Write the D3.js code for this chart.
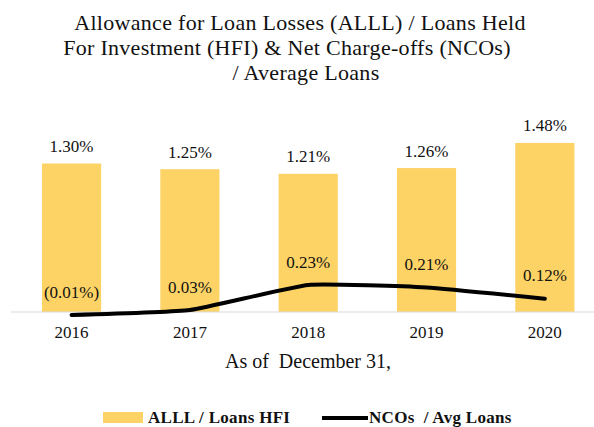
<!DOCTYPE html>
<html><head><meta charset="utf-8">
<script src="https://cdn.jsdelivr.net/npm/d3@7"></script>
<style>
html,body{margin:0;padding:0;background:#fff;}
svg{display:block;font-family:"Liberation Serif","Times New Roman",serif;}
</style></head>
<body>
<svg id="c" width="594" height="427"></svg>
<script>
const years = ["2016","2017","2018","2019","2020"];
const alllValues = [1.30, 1.25, 1.21, 1.26, 1.48];
const ncoValues = [-0.01, 0.03, 0.23, 0.21, 0.12];
const alllLabels = ["1.30%","1.25%","1.21%","1.26%","1.48%"];
const ncoLabels = ["(0.01%)","0.03%","0.23%","0.21%","0.12%"];
const titleLines = ["Allowance for Loan Losses (ALLL) / Loans Held","For Investment (HFI) & Net Charge-offs (NCOs)","/ Average Loans"];
const xAxisTitle = "As of  December 31,";
const legendLabels = ["ALLL / Loans HFI","NCOs  / Avg Loans"];

const svg = d3.select("#c");
const barColor = "#FDD366";

const x = d3.scaleBand().domain(years).range([12.4, 604]).paddingInner(0.5).paddingOuter(0.25);
const yBar = d3.scaleLinear().domain([0, 1.3]).range([312, 163.5]);
const yLine = d3.scaleLinear().domain([0, 0.24]).range([313.75, 283.75]);

// title
const titleX = [300, 287, 306];
const titleY = [30, 55, 80];
svg.append("g").selectAll("text").data(titleLines).join("text")
  .attr("x", (d,i)=>titleX[i]).attr("y", (d,i)=>titleY[i])
  .attr("text-anchor","middle").attr("font-size",22).attr("letter-spacing",0.3).attr("fill","#111")
  .text(d=>d);

// bars
svg.append("g").selectAll("rect").data(alllValues).join("rect")
  .attr("x",(d,i)=>x(years[i])).attr("width",x.bandwidth())
  .attr("y",d=>yBar(d)).attr("height",d=>yBar(0)-yBar(d))
  .attr("fill",barColor);

// axis
const axis = d3.axisBottom(x).tickSize(0).tickPadding(14);
const ag = svg.append("g").attr("transform","translate(0,312)").call(axis);
ag.select(".domain").attr("d","M11,0H594").attr("stroke","#d9d9d9").attr("stroke-width",1.2);
ag.selectAll("text").attr("font-size",17).attr("font-family","Liberation Serif").attr("fill","#111").attr("dy","0.71em");

// bar labels
svg.append("g").selectAll("text").data(alllValues).join("text")
  .attr("x",(d,i)=>x(years[i])+x.bandwidth()/2).attr("y",d=>yBar(d)-11.5)
  .attr("text-anchor","middle").attr("font-size",17).attr("fill","#111")
  .text((d,i)=>alllLabels[i]);

// line
const line = d3.line().x((d,i)=>x(years[i])+x.bandwidth()/2).y(d=>yLine(d)).curve(d3.curveCardinal.tension(0.6));
svg.append("path").datum(ncoValues).attr("d",line)
  .attr("fill","none").attr("stroke","#000").attr("stroke-width",4).attr("stroke-linejoin","round").attr("stroke-linecap","round");

svg.append("g").selectAll("text").data(ncoValues).join("text")
  .attr("x",(d,i)=>x(years[i])+x.bandwidth()/2).attr("y",d=>yLine(d)-17.5)
  .attr("text-anchor","middle").attr("font-size",17).attr("fill","#111")
  .text((d,i)=>ncoLabels[i]);

// x axis title
svg.append("text").attr("x",308).attr("y",368).attr("text-anchor","middle")
  .attr("font-size",20).attr("fill","#111").style("white-space","pre").text(xAxisTitle);

// legend
const lg = svg.append("g");
lg.append("rect").attr("x",103).attr("y",412).attr("width",40).attr("height",11).attr("fill",barColor);
lg.append("text").attr("x",148).attr("y",423).attr("font-size",17).attr("font-weight","bold").attr("letter-spacing",0.3).attr("fill","#111").text(legendLabels[0]);
lg.append("line").attr("x1",322).attr("x2",368).attr("y1",418).attr("y2",418).attr("stroke","#000").attr("stroke-width",4);
lg.append("text").attr("x",369).attr("y",423).attr("font-size",17).attr("font-weight","bold").attr("letter-spacing",0.3).attr("fill","#111").style("white-space","pre").text(legendLabels[1]);
</script>
</body></html>
